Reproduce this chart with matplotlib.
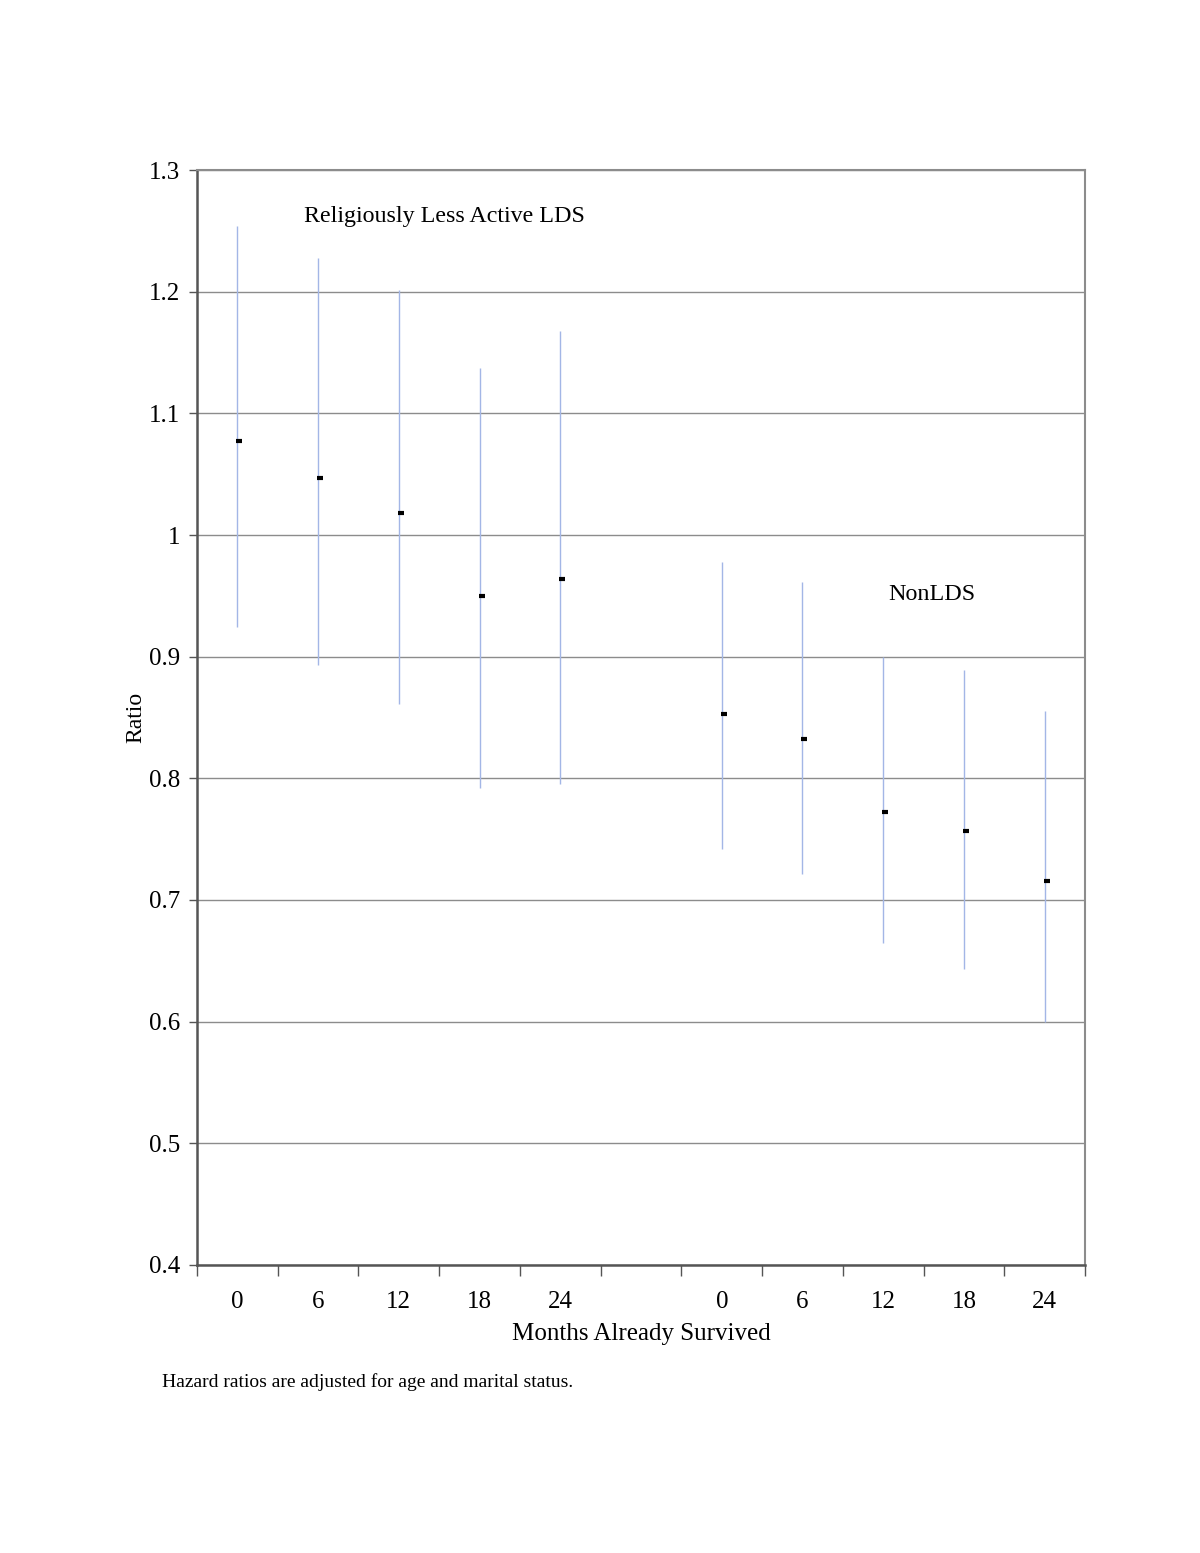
import matplotlib.pyplot as plt
import matplotlib.transforms as mtransforms
import numpy as np

plt.rcParams['font.family'] = ['Liberation Serif', 'DejaVu Serif']

# categories (blank slot separates the two groups)
months = ['0', '6', '12', '18', '24', '', '0', '6', '12', '18', '24']

# hazard ratios and confidence limits
lds_ratio = [1.077, 1.047, 1.018, 0.950, 0.964]
lds_upper = [1.254, 1.228, 1.201, 1.137, 1.168]
lds_lower = [0.924, 0.893, 0.861, 0.792, 0.795]

nonlds_ratio = [0.853, 0.832, 0.772, 0.757, 0.716]
nonlds_upper = [0.978, 0.961, 0.900, 0.889, 0.855]
nonlds_lower = [0.742, 0.721, 0.665, 0.643, 0.600]

ratio = lds_ratio + [np.nan] + nonlds_ratio
upper = lds_upper + [np.nan] + nonlds_upper
lower = lds_lower + [np.nan] + nonlds_lower

fig = plt.figure(figsize=(12, 15.53), dpi=100)
ax = fig.add_axes([0.1642, 0.18545, 0.74, 0.70508])

x = np.arange(len(months))
ax.vlines(x, lower, upper, color='#a3b6e6', linewidth=1, zorder=3)

# small dash for the ratio, nudged right of the interval line
offset = mtransforms.ScaledTranslation(2 / 100, 0, fig.dpi_scale_trans)
ax.plot(x, ratio, linestyle='none', marker='_', markersize=4.5,
        markeredgewidth=3, color='black', zorder=4,
        transform=ax.transData + offset)

ax.set_xlim(-0.5, len(months) - 0.5)
ax.set_ylim(0.4, 1.3)
ax.set_yticks(np.arange(0.4, 1.31, 0.1))
ax.set_yticklabels(['0.4', '0.5', '0.6', '0.7', '0.8', '0.9', '1', '1.1', '1.2', '1.3'])
ax.yaxis.grid(True, color='#8c8c8c', linewidth=1)
ax.set_axisbelow(True)

ax.set_xticks(x)
ax.set_xticklabels(months)
ax.set_xticks(np.arange(-0.5, len(months) + 0.5, 1), minor=True)
ax.tick_params(axis='x', which='major', length=0, pad=19, labelsize=18)
ax.tick_params(axis='x', which='minor', length=8, width=1, color='#555555')
ax.tick_params(axis='y', which='major', length=6, width=1, color='#555555',
               labelsize=18, pad=6)

for side in ['top', 'right']:
    ax.spines[side].set_color('#8c8c8c')
    ax.spines[side].set_linewidth(1.5)
for side in ['left', 'bottom']:
    ax.spines[side].set_color('#555555')
    ax.spines[side].set_linewidth(1.8)

ax.set_xlabel('Months Already Survived', fontsize=18, labelpad=7)
ax.set_ylabel('Ratio', fontsize=17, labelpad=2)

ax.text(2.57, 1.262, 'Religiously Less Active LDS', fontsize=17.3, ha='center', va='center')
ax.text(8.6, 0.951, 'NonLDS', fontsize=17.3, ha='center', va='center')

fig.text(0.135, 0.11, 'Hazard ratios are adjusted for age and marital status.',
         fontsize=14, ha='left', va='center')

fig.savefig('out.png', dpi=100, facecolor='white')
